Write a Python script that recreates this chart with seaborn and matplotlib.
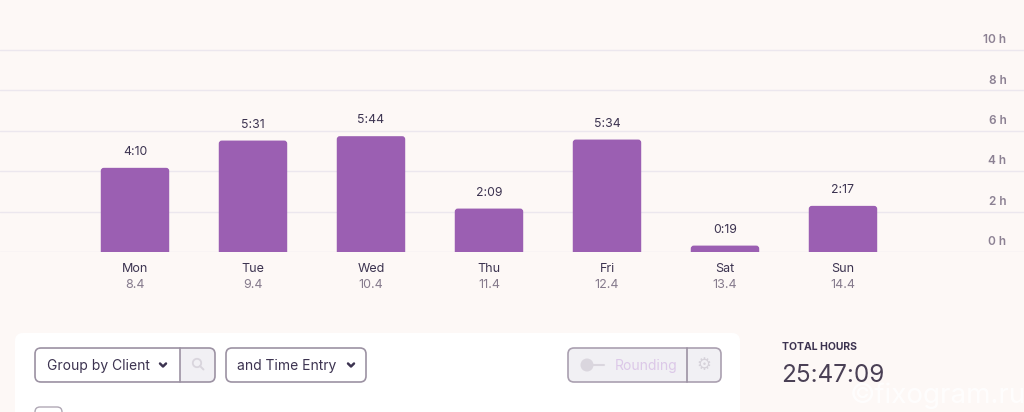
import matplotlib
matplotlib.use("Agg")
import matplotlib.pyplot as plt
import seaborn as sns
import pandas as pd
from matplotlib.patches import FancyBboxPatch, Circle
from matplotlib.lines import Line2D

# data
days = ["Mon", "Tue", "Wed", "Thu", "Fri", "Sat", "Sun"]
dates = ["8.4", "9.4", "10.4", "11.4", "12.4", "13.4", "14.4"]
durations = ["4:10", "5:31", "5:44", "2:09", "5:34", "0:19", "2:17"]
hour_ticks = [0, 2, 4, 6, 8, 10]
total_hours = "25:47:09"

hours = [int(d.split(":")[0]) + int(d.split(":")[1]) / 60 for d in durations]
df = pd.DataFrame({"day": days, "hours": hours})

BG = "#fdf8f6"
BAR = "#9b5fb2"
GRID = "#ece7ee"
DARK = "#3c3350"
MUTED = "#857a8c"

sns.set_theme(style="white")
plt.rcParams["font.family"] = ["Inter", "DejaVu Sans"]

fig = plt.figure(figsize=(10.24, 4.12), dpi=100)
fig.patch.set_facecolor(BG)

# background / UI layer in pixel coordinates
ui = fig.add_axes([0, 0, 1, 1], zorder=0)
ui.set_xlim(0, 1024)
ui.set_ylim(412, 0)
ui.axis("off")

# chart axes
ax = fig.add_axes([0, (412 - 252) / 412, 1, 252 / 412], zorder=1)
ax.set_facecolor("none")
sns.barplot(data=df, x="day", y="hours", color=BAR, width=0.58, saturation=1, ax=ax)
ax.set_xlim(-1.144, 7.534)
ax.set_ylim(0, 12.475)
for s in ax.spines.values():
    s.set_visible(False)
ax.set_xlabel("")
ax.set_ylabel("")
ax.set_yticks([])
ax.tick_params(axis="x", length=0, pad=8, labelsize=9, labelcolor=DARK)

for t in hour_ticks:
    ax.axhline(t, color=GRID, lw=1, zorder=0)
    ax.annotate(f"{t} h", (0.983, t), xycoords=("axes fraction", "data"),
                xytext=(0, 7), textcoords="offset points", ha="right", va="center",
                fontsize=8.5, color="#8c8193", fontweight="semibold")

# rounded tops for the bars
px_x = 1 / 118.0
px_y = 1 / 20.2
for p, lab in zip(list(ax.patches), durations):
    x, w, h = p.get_x(), p.get_width(), p.get_height()
    p.set_visible(False)
    rb = FancyBboxPatch((x, -0.5), w, h + 0.5,
                        boxstyle=f"round,pad=0,rounding_size={3 * px_x}",
                        mutation_aspect=px_y / px_x, fc=BAR, ec="none", zorder=2)
    ax.add_patch(rb)
    ax.annotate(lab, (x + w / 2, h), xytext=(0, 11.5), textcoords="offset points",
                ha="center", va="center", fontsize=8.8, color=DARK)

for i, d in enumerate(dates):
    ax.annotate(d, (i, 0), xycoords=("data", "axes fraction"), xytext=(0, -24),
                textcoords="offset points", ha="center", va="center",
                fontsize=9, color=MUTED)

# ---- lower UI panel ----
def rbox(x0, y0, x1, y1, r, fc, ec="none", lw=1.0, z=1):
    ui.add_patch(FancyBboxPatch((x0, y0), x1 - x0, y1 - y0,
                                boxstyle=f"round,pad=0,rounding_size={r}",
                                fc=fc, ec=ec, lw=lw, zorder=z))

def chevron(cx, cy, c=DARK):
    ui.add_line(Line2D([cx - 3, cx, cx + 3], [cy - 1.5, cy + 1.5, cy - 1.5],
                       color=c, lw=1.8, solid_capstyle="round", zorder=4))

rbox(15, 333, 740, 440, 8, "white")

# Group by Client + search
rbox(35, 348, 215, 382, 6, "#f1f0f4", ec="#9c92a3", lw=1.2, z=2)
ui.add_patch(FancyBboxPatch((36, 349), 144, 32, boxstyle="round,pad=0,rounding_size=5",
                            fc="white", ec="none", zorder=2.5))
ui.add_patch(plt.Rectangle((170, 349), 10, 32, fc="white", ec="none", zorder=2.5))
ui.add_line(Line2D([180, 180], [348, 382], color="#9c92a3", lw=1.2, zorder=3))
ui.text(47, 366, "Group by Client", fontsize=10, color=DARK, va="center", zorder=4)
chevron(163, 365)
ui.add_patch(Circle((197, 363), 4.2, fc="none", ec="#d9d5dd", lw=1.3, zorder=4))
ui.add_line(Line2D([200, 203.5], [366, 369.5], color="#d9d5dd", lw=1.4, zorder=4))

# and Time Entry
rbox(226, 348, 366, 382, 6, "white", ec="#9c92a3", lw=1.2, z=2)
ui.text(237, 366, "and Time Entry", fontsize=10, color=DARK, va="center", zorder=4)
chevron(351, 365)

# Rounding toggle
rbox(568, 348, 721, 382, 6, "#f1f0f4", ec="#aaa0b0", lw=1.2, z=2)
ui.add_line(Line2D([687, 687], [348, 382], color="#9c92a3", lw=1.2, zorder=3))
ui.add_line(Line2D([587, 604], [365, 365], color="#dad6de", lw=1.5, zorder=3))
ui.add_patch(Circle((587, 365), 6.5, fc="#dad6de", ec="none", zorder=4))
ui.text(615, 366, "Rounding", fontsize=10, color="#dcc8e8", va="center", zorder=4)
ui.text(704, 365, "\u2699", fontsize=12, color="#d6d2da", va="center", ha="center",
        family="DejaVu Sans", zorder=4)

# checkbox peeking at the bottom
rbox(35, 407, 62, 430, 5, "white", ec="#b0a8b5", lw=1.0, z=2)

# total hours
ui.text(782, 347, "TOTAL HOURS", fontsize=7.5, fontweight="bold", color=DARK, va="center")
ui.text(781, 375, total_hours, fontsize=17.5, color="#4a4055", va="center")

ui.text(1026, 396, "\u00a9fixogram.ru", fontsize=20, color="white", alpha=0.85,
        ha="right", va="center", zorder=5)

fig.savefig("out.png", dpi=100, facecolor=BG)
